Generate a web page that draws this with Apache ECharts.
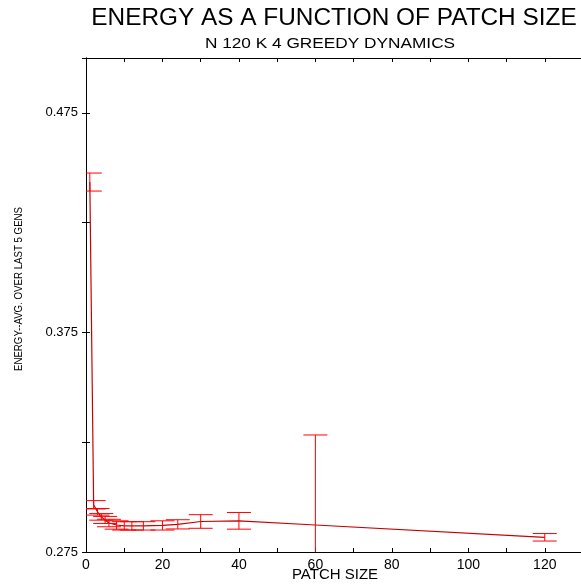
<!DOCTYPE html>
<html>
<head>
<meta charset="utf-8">
<script src="https://cdn.jsdelivr.net/npm/echarts@6/dist/echarts.min.js"></script>
<style>
  html, body { margin: 0; padding: 0; background: #fff; }
  #chart { width: 581px; height: 585px; }
</style>
</head>
<body>
<div id="chart"></div>
<script>
// Patch sizes sampled
const patchSize = [1, 2, 3, 4, 5, 6, 8, 10, 12, 15, 20, 24, 30, 40, 60, 120];
// Mean energy over the last 5 generations
const energy = [0.4435, 0.2965, 0.2933, 0.2910, 0.2896, 0.2882, 0.2873, 0.2869,
                0.2869, 0.2869, 0.2871, 0.2876, 0.2889, 0.2892, 0.2873, 0.2817];
// Half-width of the error bar at each patch size
const errHalf = [0.0041, 0.0019, 0.0015, 0.0015, 0.0016, 0.0017, 0.0019, 0.0019,
                 0.0019, 0.0019, 0.0021, 0.0021, 0.0031, 0.0038, 0.0410, 0.0017];
// Labelled ticks
const xTickLabels = [0, 20, 40, 60, 80, 100, 120];
const yTickLabels = [0.275, 0.375, 0.475];

const lineData = patchSize.map((p, i) => [p, energy[i]]);
const errData = patchSize.map((p, i) => [p, energy[i] - errHalf[i], energy[i] + errHalf[i]]);

const FONT = 'Liberation Sans';
const RED = '#ff0000';

function errorBar(params, api) {
  const x = api.value(0);
  const lo = api.coord([x, api.value(1)]);
  const hi = api.coord([x, api.value(2)]);
  const w = 12;
  const style = { stroke: RED, lineWidth: 1 };
  return {
    type: 'group',
    children: [
      { type: 'line', shape: { x1: lo[0], y1: lo[1], x2: hi[0], y2: hi[1] }, style },
      { type: 'line', shape: { x1: lo[0] - w, y1: lo[1], x2: lo[0] + w, y2: lo[1] }, style },
      { type: 'line', shape: { x1: hi[0] - w, y1: hi[1], x2: hi[0] + w, y2: hi[1] }, style }
    ]
  };
}

const axisLine = { show: true, lineStyle: { color: '#000', width: 1 } };
const tick = { show: true, inside: true, length: 4, lineStyle: { color: '#000' } };

const chart = echarts.init(document.getElementById('chart'), null, { renderer: 'canvas' });
chart.setOption({
  animation: false,
  backgroundColor: '#fff',
  grid: { left: 86, right: -2, top: 58, bottom: 33, outerBoundsMode: 'none', containLabel: false },
  graphic: [
    { type: 'text', x: 334, y: 19, scaleX: 1.06,
      style: { text: 'ENERGY AS A FUNCTION OF PATCH SIZE', font: '23px "Liberation Sans"', fill: '#000',
               textAlign: 'center', textVerticalAlign: 'middle' } },
    { type: 'text', x: 330, y: 44, scaleX: 1.15,
      style: { text: 'N 120 K 4 GREEDY DYNAMICS', font: '15px "Liberation Sans"', fill: '#000',
               textAlign: 'center', textVerticalAlign: 'middle' } },
    { type: 'text', x: 19, y: 289, rotation: Math.PI / 2, scaleX: 0.88,
      style: { text: 'ENERGY--AVG. OVER LAST 5 GENS', font: '11px "Liberation Sans"', fill: '#000',
               textAlign: 'center', textVerticalAlign: 'middle' } },
    { type: 'text', x: 335, y: 575,
      style: { text: 'PATCH SIZE', font: '15px "Liberation Sans"', fill: '#000',
               textAlign: 'center', textVerticalAlign: 'middle' } }
  ],
  xAxis: [
    {
      type: 'value', position: 'bottom', min: 0, max: 130, interval: 10,
      axisLine, axisTick: tick, splitLine: { show: false },
      axisLabel: {
        color: '#000', fontFamily: FONT, fontSize: 14, margin: 6,
        formatter: v => xTickLabels.indexOf(Math.round(v)) >= 0 ? String(Math.round(v)) : ''
      }
    },
    {
      type: 'value', position: 'top', min: 0, max: 130, interval: 10,
      axisLine, axisTick: tick, axisLabel: { show: false }, splitLine: { show: false }
    }
  ],
  yAxis: [
    {
      type: 'value', position: 'left', min: 0.275, max: 0.5, interval: 0.05,
      axisLine, axisTick: tick, splitLine: { show: false },
      axisLabel: {
        color: '#000', fontFamily: FONT, fontSize: 13, margin: 8,
        formatter: v => {
          const r = Math.round(v * 1000) / 1000;
          return yTickLabels.some(t => Math.abs(t - r) < 1e-6) ? r.toFixed(3) : '';
        }
      }
    },
    {
      type: 'value', position: 'right', min: 0.275, max: 0.5, interval: 0.05,
      axisLine, axisTick: tick, axisLabel: { show: false }, splitLine: { show: false }
    }
  ],
  series: [
    {
      type: 'line', data: lineData, symbol: 'none',
      lineStyle: { color: '#c80000', width: 1.2 }, z: 3
    },
    {
      type: 'custom', data: errData, renderItem: errorBar, clip: true, z: 4
    }
  ]
});
</script>
</body>
</html>
